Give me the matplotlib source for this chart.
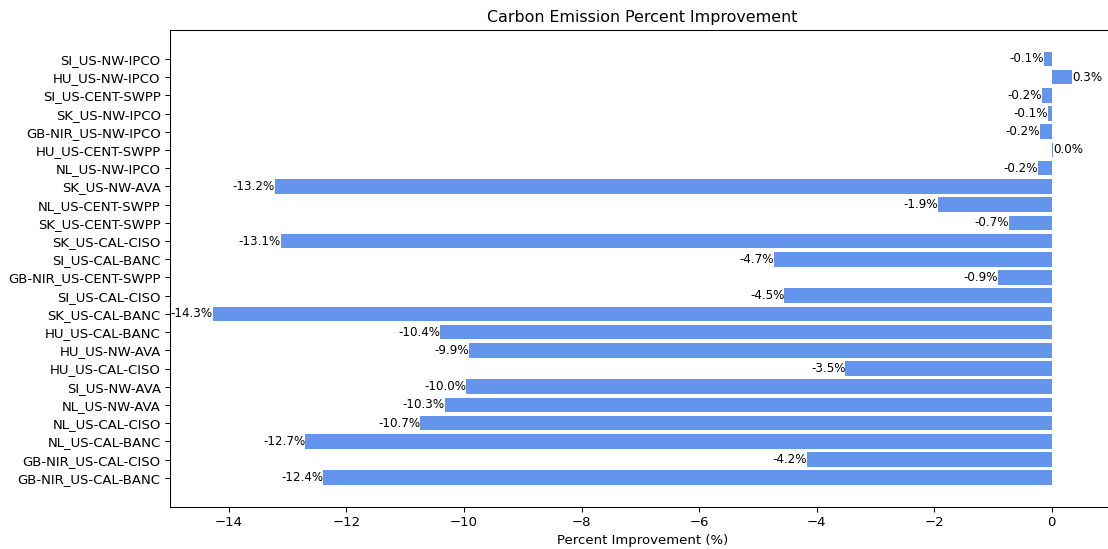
import matplotlib
matplotlib.use('Agg')
import matplotlib.pyplot as plt
import numpy as np

# Region pairs and their carbon emission improvement (%), listed top to bottom
pairs = [
    "SI_US-NW-IPCO", "HU_US-NW-IPCO", "SI_US-CENT-SWPP", "SK_US-NW-IPCO",
    "GB-NIR_US-NW-IPCO", "HU_US-CENT-SWPP", "NL_US-NW-IPCO", "SK_US-NW-AVA",
    "NL_US-CENT-SWPP", "SK_US-CENT-SWPP", "SK_US-CAL-CISO", "SI_US-CAL-BANC",
    "GB-NIR_US-CENT-SWPP", "SI_US-CAL-CISO", "SK_US-CAL-BANC", "HU_US-CAL-BANC",
    "HU_US-NW-AVA", "HU_US-CAL-CISO", "SI_US-NW-AVA", "NL_US-NW-AVA",
    "NL_US-CAL-CISO", "NL_US-CAL-BANC", "GB-NIR_US-CAL-CISO", "GB-NIR_US-CAL-BANC",
]
improvement = [
    -0.14, 0.35, -0.16, -0.06,
    -0.20, 0.02, -0.24, -13.22,
    -1.93, -0.73, -13.12, -4.72,
    -0.91, -4.55, -14.27, -10.40,
    -9.92, -3.51, -9.96, -10.33,
    -10.74, -12.70, -4.16, -12.39,
]

DPI = 95
fig = plt.figure(figsize=(1108 / DPI, 549 / DPI), dpi=DPI)
ax = fig.add_axes([0.1534, 0.077, 0.8532, 0.8684])

y = np.arange(len(pairs))
ax.barh(y, improvement, height=0.8, color='cornflowerblue')
ax.set_yticks(y)
ax.set_yticklabels(pairs)
ax.invert_yaxis()

# Value labels at the end of each bar
for yi, v in zip(y, improvement):
    ha = 'right' if v < 0 else 'left'
    ax.text(v, yi, f"{v:.1f}%", ha=ha, va='center', fontsize=9)

ax.set_title("Carbon Emission Percent Improvement")
ax.set_xlabel("Percent Improvement (%)")

plt.savefig("out.png", dpi=DPI)
plt.close()
